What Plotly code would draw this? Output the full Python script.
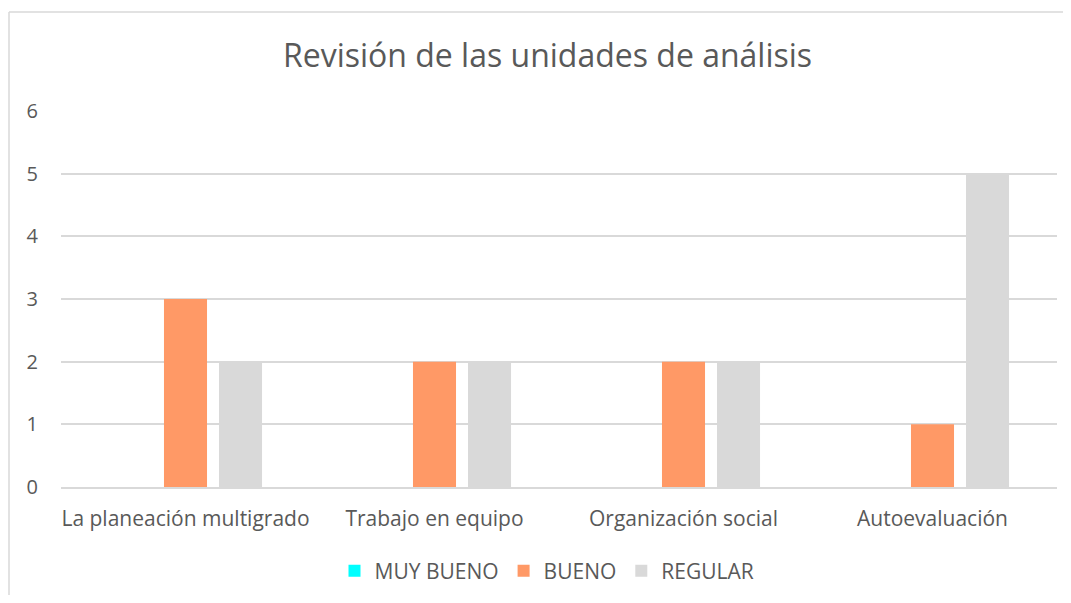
import plotly.graph_objects as go

categories = ["La planeación multigrado", "Trabajo en equipo", "Organización social", "Autoevaluación"]
muy_bueno = [0, 0, 0, 0]
bueno = [3, 2, 2, 1]
regular = [2, 2, 2, 5]
y_ticks = [0, 1, 2, 3, 4, 5, 6]

font_family = "Open Sans, Liberation Sans, sans-serif"
text_color = "#595959"
grid_color = "#d9d9d9"

# page body has an 8px margin on every side, so the figure is shrunk to avoid scrollbars
W, H = 1055, 587
L, R, T, B = 53, 6, 103, 108
plot_w = W - L - R
plot_h = H - T - B

fig = go.Figure()
fig.add_trace(go.Bar(name="MUY BUENO", x=categories, y=muy_bueno, marker=dict(color="#00ffff", line=dict(width=0))))
fig.add_trace(go.Bar(name="BUENO", x=categories, y=bueno, marker=dict(color="#ff9966", line=dict(width=0))))
fig.add_trace(go.Bar(name="REGULAR", x=categories, y=regular, marker=dict(color="#d9d9d9", line=dict(width=0))))

fig.update_layout(
    width=W, height=H,
    margin=dict(l=L, r=R, t=T, b=B, autoexpand=False),
    paper_bgcolor="white", plot_bgcolor="white",
    barmode="group", bargap=0.337, bargroupgap=0.218,
    font=dict(family=font_family, color=text_color, size=20),
    title=dict(text="Revisión de las unidades de análisis", x=(547.5 - 8) / W, xanchor="center",
               y=1 - 48 / H, yanchor="middle",
               font=dict(size=32, color=text_color, family=font_family)),
    legend=dict(orientation="h", x=0.5 - 12 / plot_w, xanchor="center", y=-84 / plot_h, yanchor="middle",
                font=dict(size=21, color=text_color), itemwidth=30, traceorder="normal"),
    showlegend=True,
)
fig.update_yaxes(range=[0, 6], tickvals=y_ticks, showgrid=True, gridcolor=grid_color, gridwidth=1.5,
                 zeroline=False, showline=False, ticks="", ticklabelstandoff=22, automargin=False,
                 tickfont=dict(size=20, color=text_color))
fig.update_xaxes(showline=True, linecolor=grid_color, linewidth=1.5, ticks="", ticklabelstandoff=12,
                 automargin=False, tickfont=dict(size=21, color=text_color))

# chart-area border: only left and top edges are visible in the reference
bx = (1 - L) / plot_w
by = (plot_h + T - 4) / plot_h
fig.add_shape(type="line", xref="paper", yref="paper", x0=bx, x1=(W - L) / plot_w, y0=by, y1=by,
              line=dict(color=grid_color, width=1.5), layer="below")
fig.add_shape(type="line", xref="paper", yref="paper", x0=bx, x1=bx, y0=-(B + 5) / plot_h, y1=by,
              line=dict(color=grid_color, width=1.5), layer="below")

fig.write_html("out.html")
